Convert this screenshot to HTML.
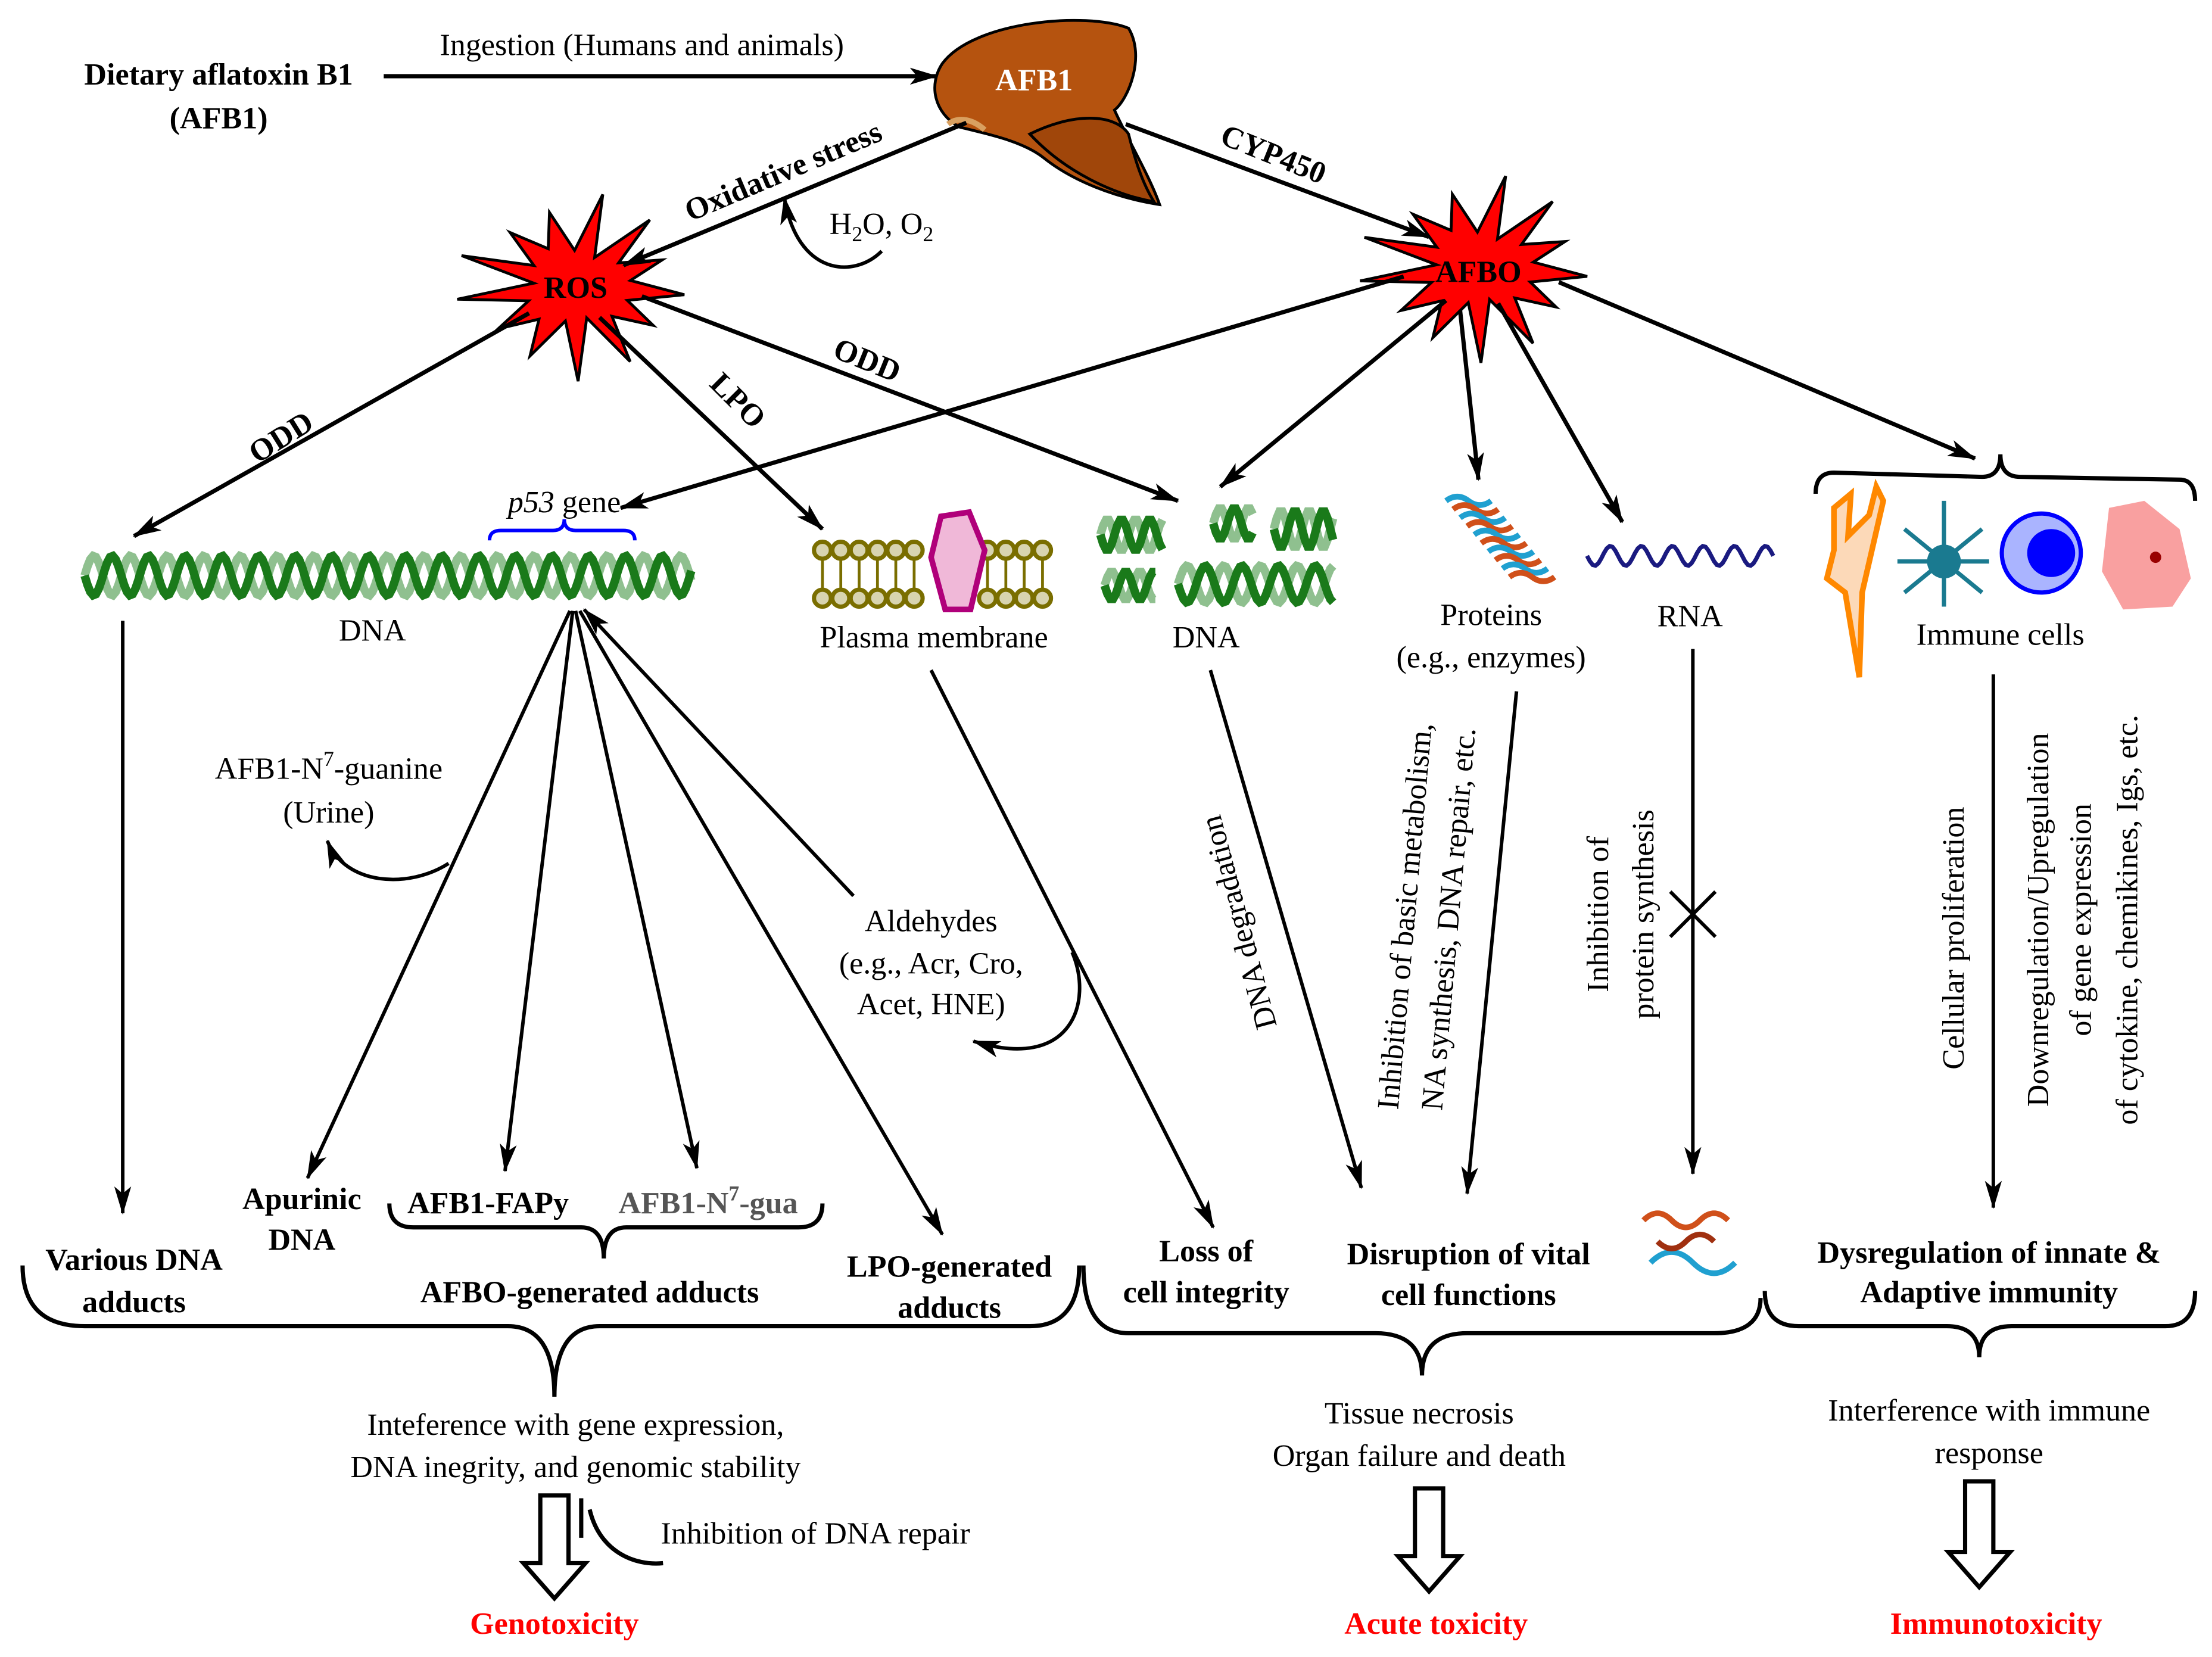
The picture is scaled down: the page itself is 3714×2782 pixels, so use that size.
<!DOCTYPE html>
<html><head><meta charset="utf-8"><style>
html,body{margin:0;padding:0;background:#fff}
svg{display:block}
text{font-family:"Liberation Serif","Times New Roman","DejaVu Serif",serif;font-size:22px;fill:#000}
.b{font-weight:bold}
.m{text-anchor:middle}
</style></head><body>
<svg id="s" width="3714" height="2782" viewBox="0 0 1568 1174.5" xmlns="http://www.w3.org/2000/svg">
<defs>
<marker id="ah" viewBox="0 0 20 12" refX="19" refY="6" markerWidth="20" markerHeight="12" markerUnits="userSpaceOnUse" orient="auto"><path d="M0,0 L20,6 L0,12 L5,6 z" fill="#000"/></marker>
</defs>
<g id="dyn"></g>
<text class="b m" x="155" y="60">Dietary aflatoxin B1</text>
<text class="b m" x="155" y="91">(AFB1)</text>
<line x1="272" y1="54" x2="664" y2="54" stroke="#000" stroke-width="3" marker-end="url(#ah)"/>
<text class="m" x="455" y="39">Ingestion (Humans and animals)</text>
<path d="M668,45 C690,15 770,8 800,20 C812,40 800,70 790,78 C800,100 815,125 822,145 C790,140 760,128 740,112 C725,100 700,95 680,90 C662,80 658,60 668,45 z" fill="#b5530f" stroke="#000" stroke-width="2"/>
<path d="M730,95 C760,80 790,80 800,95 C805,115 810,130 818,143 C790,138 755,122 730,95 z" fill="#a0460a" stroke="#000" stroke-width="2"/>
<path d="M672,88 C680,82 690,85 698,92" stroke="#d9a060" stroke-width="4" fill="none"/>
<text class="b m" x="733" y="64" style="fill:#fff">AFB1</text>
<line x1="685" y1="87" x2="442" y2="188" stroke="#000" stroke-width="3" marker-end="url(#ah)"/>
<text class="b m" transform="translate(558,128) rotate(-23)">Oxidative stress</text>
<path d="M625,178 C605,198 565,195 556,140" fill="none" stroke="#000" stroke-width="2.5" marker-end="url(#ah)"/>
<text x="588" y="166">H<tspan font-size="15" dy="5">2</tspan><tspan dy="-5">O, O</tspan><tspan font-size="15" dy="5">2</tspan></text>
<line x1="798" y1="88" x2="1013" y2="168" stroke="#000" stroke-width="3" marker-end="url(#ah)"/>
<text class="b m" transform="translate(900,116) rotate(22)">CYP450</text>
<line x1="375" y1="222" x2="95" y2="380" stroke="#000" stroke-width="3" marker-end="url(#ah)"/>
<text class="b m" transform="translate(203,316) rotate(-32)">ODD</text>
<line x1="425" y1="225" x2="583" y2="375" stroke="#000" stroke-width="3" marker-end="url(#ah)"/>
<text class="b m" transform="translate(518,289) rotate(45)">LPO</text>
<line x1="455" y1="210" x2="835" y2="355" stroke="#000" stroke-width="3" marker-end="url(#ah)"/>
<text class="b m" transform="translate(612,262) rotate(22)">ODD</text>
<line x1="995" y1="196" x2="440" y2="360" stroke="#000" stroke-width="3" marker-end="url(#ah)"/>
<line x1="1025" y1="213" x2="865" y2="345" stroke="#000" stroke-width="3" marker-end="url(#ah)"/>
<line x1="1035" y1="220" x2="1048" y2="340" stroke="#000" stroke-width="3" marker-end="url(#ah)"/>
<line x1="1062" y1="215" x2="1150" y2="370" stroke="#000" stroke-width="3" marker-end="url(#ah)"/>
<line x1="1105" y1="200" x2="1400" y2="325" stroke="#000" stroke-width="3" marker-end="url(#ah)"/>
<text class="b m" x="408" y="211">ROS</text>
<text class="b m" x="1048" y="200">AFBO</text>
<path d="M347,383 Q347,376 355,376 L392,376 Q400,376 400,368 Q400,376 408,376 L442,376 Q450,376 450,383" fill="none" stroke="#00f" stroke-width="2.5"/>
<text class="m" x="400" y="363"><tspan font-style="italic">p53</tspan> gene</text>
<text class="m" x="264" y="454">DNA</text>
<text class="m" x="662" y="459">Plasma membrane</text>
<path d="M667,366 L687,363 L698,390 L688,432 L670,432 L660,395 z" fill="#f0b8d8" stroke="#b0007a" stroke-width="4"/>
<text class="m" x="855" y="459">DNA</text>
<text class="m" x="1057" y="443">Proteins</text>
<text class="m" x="1057" y="473">(e.g., enzymes)</text>
<text class="m" x="1198" y="444">RNA</text>
<path d="M1287,350 Q1287,335 1300,335 L1405,338 Q1418,338 1418,322 Q1418,338 1432,338 L1545,340 Q1556,340 1556,355" fill="none" stroke="#000" stroke-width="3"/>
<text class="m" x="1418" y="457">Immune cells</text>
<path d="M1300,360 L1312,350 L1310,380 L1325,365 L1330,345 L1335,355 L1320,420 L1318,480 L1308,420 L1295,410 L1300,390 z" fill="#fcd9b8" stroke="#ff8800" stroke-width="4"/>
<g stroke="#1a7a90" stroke-width="3" fill="none"><path d="M1378,355 L1378,430 M1350,375 L1405,420 M1405,375 L1350,420 M1345,398 L1410,398"/></g>
<circle cx="1378" cy="398" r="12" fill="#1a7a90"/>
<circle cx="1447" cy="392" r="28" fill="#aab4ff" stroke="#0000ff" stroke-width="3"/>
<circle cx="1454" cy="392" r="17" fill="#0000ff"/>
<path d="M1495,360 L1520,355 L1545,375 L1553,410 L1540,430 L1505,432 L1490,405 z" fill="#f9a0a0"/>
<circle cx="1528" cy="395" r="4" fill="#990000"/>
<line x1="87" y1="440" x2="87" y2="860" stroke="#000" stroke-width="2.5" marker-end="url(#ah)"/>
<line x1="404" y1="433" x2="218" y2="835" stroke="#000" stroke-width="2.5" marker-end="url(#ah)"/>
<line x1="406" y1="433" x2="358" y2="830" stroke="#000" stroke-width="2.5" marker-end="url(#ah)"/>
<line x1="408" y1="433" x2="494" y2="828" stroke="#000" stroke-width="2.5" marker-end="url(#ah)"/>
<line x1="411" y1="433" x2="668" y2="875" stroke="#000" stroke-width="2.5" marker-end="url(#ah)"/>
<line x1="605" y1="635" x2="414" y2="432" stroke="#000" stroke-width="2.5" marker-end="url(#ah)"/>
<path d="M318,612 C290,630 245,628 232,596" fill="none" stroke="#000" stroke-width="2.5" marker-end="url(#ah)"/>
<text class="m" x="233" y="552">AFB1-N<tspan font-size="15" dy="-9">7</tspan><tspan dy="9">-guanine</tspan></text>
<text class="m" x="233" y="583">(Urine)</text>
<text class="m" x="660" y="660">Aldehydes</text>
<text class="m" x="660" y="690">(e.g., Acr, Cro,</text>
<text class="m" x="660" y="719">Acet, HNE)</text>
<path d="M760,675 C775,710 760,760 690,738" fill="none" stroke="#000" stroke-width="2.5" marker-end="url(#ah)"/>
<line x1="660" y1="475" x2="860" y2="870" stroke="#000" stroke-width="2.5" marker-end="url(#ah)"/>
<line x1="858" y1="475" x2="965" y2="842" stroke="#000" stroke-width="2.5" marker-end="url(#ah)"/>
<text class="m" transform="translate(885,652) rotate(-105)">DNA degradation</text>
<line x1="1075" y1="490" x2="1040" y2="846" stroke="#000" stroke-width="2.5" marker-end="url(#ah)"/>
<text class="m" transform="translate(1003,650) rotate(-85)">Inhibition of basic metabolism,</text>
<text class="m" transform="translate(1034,652) rotate(-85)">NA synthesis, DNA repair, etc.</text>
<line x1="1200" y1="460" x2="1200" y2="832" stroke="#000" stroke-width="2.5" marker-end="url(#ah)"/>
<path d="M1184,632 L1216,664 M1216,632 L1184,664" stroke="#000" stroke-width="2.5"/>
<text class="m" transform="translate(1140,648) rotate(-90)">Inhibition of</text>
<text class="m" transform="translate(1172,648) rotate(-90)">protein synthesis</text>
<line x1="1413" y1="478" x2="1413" y2="856" stroke="#000" stroke-width="2.5" marker-end="url(#ah)"/>
<text class="m" transform="translate(1392,665) rotate(-90)">Cellular proliferation</text>
<text class="m" transform="translate(1452,652) rotate(-90)">Downregulation/Upregulation</text>
<text class="m" transform="translate(1482,652) rotate(-90)">of gene expression</text>
<text class="m" transform="translate(1515,652) rotate(-90)">of cytokine, chemikines, Igs, etc.</text>
<text class="b m" x="95" y="900">Various DNA</text>
<text class="b m" x="95" y="930">adducts</text>
<text class="b m" x="214" y="857">Apurinic</text>
<text class="b m" x="214" y="886">DNA</text>
<text class="b m" x="346" y="860">AFB1-FAPy</text>
<text class="b m" x="502" y="860" style="fill:#555">AFB1-N<tspan font-size="15" dy="-9">7</tspan><tspan dy="9">-gua</tspan></text>
<path d="M276,853 Q276,870 293,870 L412,870 Q428,870 428,892 Q428,870 444,870 L566,870 Q583,870 583,853" fill="none" stroke="#000" stroke-width="3"/>
<text class="b m" x="418" y="923">AFBO-generated adducts</text>
<text class="b m" x="673" y="905">LPO-generated</text>
<text class="b m" x="673" y="934">adducts</text>
<path d="M16,897 Q16,940 60,940 L360,940 Q393,940 393,990 Q393,940 425,940 L730,940 Q765,940 765,897" fill="none" stroke="#000" stroke-width="3"/>
<text class="m" x="408" y="1017">Inteference with gene expression,</text>
<text class="m" x="408" y="1047">DNA inegrity, and genomic stability</text>
<path d="M383,1060 L403,1060 L403,1108 L415,1108 L393,1133 L371,1108 L383,1108 z" fill="#fff" stroke="#000" stroke-width="3"/>
<line x1="412" y1="1062" x2="412" y2="1090" stroke="#000" stroke-width="3"/>
<path d="M418,1070 C425,1100 450,1110 470,1108" fill="none" stroke="#000" stroke-width="3"/>
<text class="m" x="578" y="1094">Inhibition of DNA repair</text>
<text class="b m" x="393" y="1158" style="fill:#f00">Genotoxicity</text>
<text class="b m" x="855" y="894">Loss of</text>
<text class="b m" x="855" y="923">cell  integrity</text>
<text class="b m" x="1041" y="896">Disruption  of vital</text>
<text class="b m" x="1041" y="925">cell functions</text>
<g fill="none" stroke-width="4"><path d="M1165,865 q10,-10 20,0 t20,0 t20,0" stroke="#d0501a"/><path d="M1170,895 q15,-15 30,0 t30,0" stroke="#20a0d0"/><path d="M1175,880 q10,10 20,0 t20,0" stroke="#a03010"/></g>
<path d="M768,897 Q768,945 800,945 L975,945 Q1008,945 1008,975 Q1008,945 1040,945 L1215,945 Q1248,945 1248,920" fill="none" stroke="#000" stroke-width="3"/>
<text class="m" x="1006" y="1009">Tissue necrosis</text>
<text class="m" x="1006" y="1039">Organ failure and death</text>
<path d="M1003,1055 L1023,1055 L1023,1103 L1035,1103 L1013,1128 L991,1103 L1003,1103 z" fill="#fff" stroke="#000" stroke-width="3"/>
<text class="b m" x="1018" y="1158" style="fill:#f00">Acute toxicity</text>
<text class="b m" x="1410" y="895">Dysregulation of innate &amp;</text>
<text class="b m" x="1410" y="923">Adaptive immunity</text>
<path d="M1251,915 Q1251,940 1275,940 L1380,940 Q1403,940 1403,962 Q1403,940 1426,940 L1535,940 Q1556,940 1556,915" fill="none" stroke="#000" stroke-width="3"/>
<text class="m" x="1410" y="1007">Interference with immune</text>
<text class="m" x="1410" y="1037">response</text>
<path d="M1393,1050 L1413,1050 L1413,1100 L1425,1100 L1403,1125 L1381,1100 L1393,1100 z" fill="#fff" stroke="#000" stroke-width="3"/>
<text class="b m" x="1415" y="1158" style="fill:#f00">Immunotoxicity</text>
</svg>
<script>
(function(){
var g=document.getElementById('dyn'),ns='http://www.w3.org/2000/svg';
function el(t,a){var e=document.createElementNS(ns,t);for(var k in a)e.setAttribute(k,a[k]);g.appendChild(e);return e;}
function star(cx,cy,R,r,n){var p=[];for(var i=0;i<2*n;i++){var a=i*Math.PI/n+0.1,rr=(i%2?r:R)*(1+0.15*Math.sin(i*2.3));p.push((cx+rr*Math.cos(a)*1.25).toFixed(1)+','+(cy+rr*Math.sin(a)*0.95).toFixed(1));}el('polygon',{points:p.join(' '),fill:'#f00',stroke:'#000','stroke-width':2});}
star(408,203,62,28,13);star(1048,190,62,28,13);
function helix(x1,x2,y,amp,per,col){var d1='',d2='';for(var x=x1;x<=x2;x+=2){var t=(x-x1)/per*2*Math.PI;d1+=(x==x1?'M':'L')+x+','+(y+amp*Math.sin(t)).toFixed(1);d2+=(x==x1?'M':'L')+x+','+(y-amp*Math.sin(t)).toFixed(1);}
el('path',{d:d2,fill:'none',stroke:'#8fc08f','stroke-width':6});el('path',{d:d1,fill:'none',stroke:col,'stroke-width':6});}
helix(60,490,408,14,26,'#1a7a1a');
helix(835,945,414,13,26,'#1a7a1a');
[[780,368,825,390],[783,405,820,425],[860,360,888,382],[903,362,945,388]].forEach(function(b){helix(b[0],b[2],(b[1]+b[3])/2,(b[3]-b[1])/2,20,'#1a7a1a');});
for(var x=583;x<=748;x+=13){if(x>655&&x<700)continue;el('circle',{cx:x,cy:390,r:6,fill:'#d8d4b0',stroke:'#7a6e00','stroke-width':3});el('circle',{cx:x,cy:424,r:6,fill:'#d8d4b0',stroke:'#7a6e00','stroke-width':3});el('line',{x1:x,y1:396,x2:x,y2:418,stroke:'#7a6e00','stroke-width':2});}
for(var i=0;i<10;i++){el('path',{d:'M'+(1025+i*5)+','+(355+i*6)+' q8,-6 16,0 t16,0',fill:'none',stroke:i%2?'#d0501a':'#20a0d0','stroke-width':4});}
var d='';for(var x=1125;x<=1258;x+=2){d+=(x==1125?'M':'L')+x+','+(394+7*Math.sin((x-1125)/22*2*Math.PI)).toFixed(1);}el('path',{d:d,fill:'none',stroke:'#1a1a80','stroke-width':3});
})();
</script>
</body></html>
